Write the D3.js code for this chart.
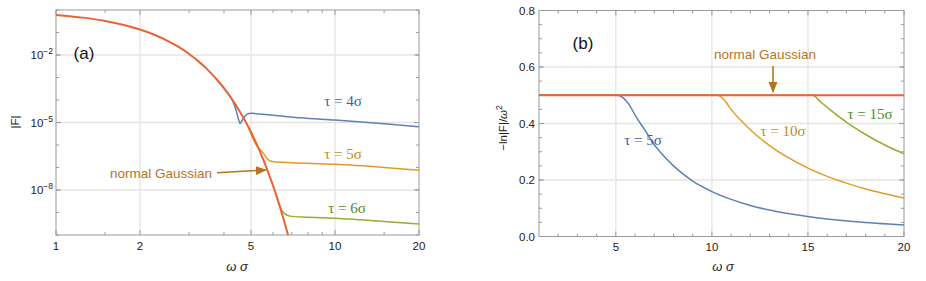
<!DOCTYPE html>
<html>
<head>
<meta charset="utf-8">
<script src="https://cdn.jsdelivr.net/npm/d3@7"></script>
<style>
  body { margin: 0; background: #fff; }
  svg { display: block; }
</style>
</head>
<body>
<div id="root"></div>
<script>
// ---- panel (a): |F| vs omega sigma, log-log ----
var gaussA = [[1, 0.607], [1.25, 0.458], [1.5, 0.325], [1.75, 0.216], [2, 0.135], [2.25, 0.0796],
  [2.5, 0.0439], [2.75, 0.0228], [3, 0.0111], [3.25, 5.08e-3], [3.5, 2.19e-3], [3.75, 8.83e-4],
  [4, 3.36e-4], [4.25, 1.20e-4], [4.5, 4.01e-5], [4.75, 1.26e-5], [5, 3.72e-6], [5.25, 1.04e-6],
  [5.5, 2.70e-7], [5.75, 6.61e-8], [6, 1.52e-8], [6.25, 3.30e-9], [6.5, 6.68e-10], [6.75, 1.28e-10],
  [6.8, 9.1e-11]];
var tau4 = [[3.9, 5.0e-4], [4.1, 2.2e-4], [4.26, 1.15e-4], [4.42, 3.6e-5], [4.52, 1.26e-5],
  [4.57, 9.1e-6], [4.65, 1.26e-5], [4.75, 1.9e-5], [4.85, 2.35e-5], [5.0, 2.57e-5], [5.5, 2.3e-5],
  [6, 2.1e-5], [7.5, 1.62e-5], [10, 1.29e-5], [15, 8.9e-6], [20, 6.5e-6]];
var tau5 = [[4.9, 6.1e-6], [5.17, 1.2e-6], [5.5, 4.8e-7], [5.84, 1.95e-7], [6.2, 1.74e-7],
  [7, 1.62e-7], [10, 1.38e-7], [15, 1.0e-7], [20, 7.6e-8]];
var tau6 = [[6.2, 4.5e-9], [6.41, 1.38e-9], [6.6, 8.9e-10], [6.89, 6.9e-10], [8, 6.2e-10],
  [10, 5.5e-10], [15, 4.0e-10], [20, 3.1e-10]];
var xTicksA = [1, 2, 5, 10, 20];
var xMinorA = [1.5, 3, 4, 6, 7, 8, 9, 15];
var yTicksA = [-2, -5, -8];          // labelled decades
var yDecadesA = [-10, -9, -8, -7, -6, -5, -4, -3, -2, -1, 0];

// ---- panel (b): -ln|F|/omega^2 ----
var gaussB = [[1, 0.5], [20, 0.5]];
var tau5b = [[1, 0.5], [5.1, 0.5], [5.4, 0.49], [5.7, 0.466], [6.0, 0.43], [6.5, 0.378], [7.0, 0.325],
  [7.3, 0.30], [8, 0.25], [9, 0.196], [10, 0.159], [12, 0.11], [15, 0.071], [17.5, 0.052], [20, 0.041]];
var tau10b = [[1, 0.5], [10.3, 0.5], [10.6, 0.487], [11, 0.45], [12, 0.378], [13, 0.322], [14, 0.278],
  [15, 0.242], [16, 0.213], [17, 0.189], [18, 0.168], [19, 0.151], [20, 0.136]];
var tau15b = [[1, 0.5], [15.25, 0.5], [15.6, 0.48], [16, 0.457], [17, 0.405], [18, 0.361],
  [19, 0.324], [20, 0.293]];
var xTicksB = [5, 10, 15, 20];
var yTicksB = [0.0, 0.2, 0.4, 0.6, 0.8];

var blue = "#5e81b5", gold = "#e19c24", green = "#8fb032", red = "#eb6235";
var frameCol = "#9a9a9a", gridCol = "#e4e4e4", textCol = "#222";
var sans = "'Liberation Sans', Arial, sans-serif";
var serif = "'Liberation Serif', 'Times New Roman', serif";

var svg = d3.select("#root").append("svg")
  .attr("width", 926).attr("height", 281);

var defs = svg.append("defs");
defs.append("marker").attr("id", "arrow")
  .attr("viewBox", "0 0 10 10").attr("refX", 9).attr("refY", 5)
  .attr("markerWidth", 7).attr("markerHeight", 7).attr("orient", "auto")
  .append("path").attr("d", "M0,1 L10,5 L0,9 z").attr("fill", "#b8741a");

function frame(g, x, y, xMaj, xMin, yMaj, yMin, idx) {
  var x0 = x.range()[0], x1 = x.range()[1], y0 = y.range()[0], y1 = y.range()[1];
  // grid at labelled ticks
  g.selectAll(".gx").data(xMaj.filter(function (d) { return x(d) > x0 + 1 && x(d) < x1 - 1; }))
    .enter().append("line")
    .attr("x1", function (d) { return x(d); }).attr("x2", function (d) { return x(d); })
    .attr("y1", y0).attr("y2", y1).attr("stroke", gridCol).attr("stroke-width", 1.3);
  g.selectAll(".gy").data(yMaj.filter(function (d) { return y(d) < y0 - 1 && y(d) > y1 + 1; }))
    .enter().append("line")
    .attr("y1", function (d) { return y(d); }).attr("y2", function (d) { return y(d); })
    .attr("x1", x0).attr("x2", x1).attr("stroke", gridCol).attr("stroke-width", 1.3);

  // ticks, inward on all four sides
  var tk = g.append("g").attr("stroke", frameCol).attr("stroke-width", 1);
  function xt(list, len) {
    list.forEach(function (d) {
      tk.append("line").attr("x1", x(d)).attr("x2", x(d)).attr("y1", y0).attr("y2", y0 - len);
      tk.append("line").attr("x1", x(d)).attr("x2", x(d)).attr("y1", y1).attr("y2", y1 + len);
    });
  }
  function yt(list, len) {
    list.forEach(function (d) {
      tk.append("line").attr("y1", y(d)).attr("y2", y(d)).attr("x1", x0).attr("x2", x0 + len);
      tk.append("line").attr("y1", y(d)).attr("y2", y(d)).attr("x1", x1).attr("x2", x1 - len);
    });
  }
  xt(xMaj, 5); xt(xMin, 3); yt(yMaj, 5); yt(yMin, 3);

  g.append("rect").attr("x", x0).attr("y", y1).attr("width", x1 - x0).attr("height", y0 - y1)
    .attr("fill", "none").attr("stroke", frameCol).attr("stroke-width", 1);

  defs.append("clipPath").attr("id", "clip" + idx).append("rect")
    .attr("x", x0).attr("y", y1).attr("width", x1 - x0).attr("height", y0 - y1);
}

function curve(g, data, x, y, col, w) {
  var line = d3.line()
    .x(function (d) { return x(d[0]); })
    .y(function (d) { return y(d[1]); })
    .curve(d3.curveMonotoneX);
  g.append("path").datum(data).attr("d", line)
    .attr("fill", "none").attr("stroke", col).attr("stroke-width", w)
    .attr("stroke-linejoin", "round");
}

function label(g, x, y, txt, col, font, size, anchor) {
  return g.append("text").attr("x", x).attr("y", y).text(txt)
    .attr("fill", col).attr("font-family", font).attr("font-size", size)
    .attr("text-anchor", anchor || "middle");
}

// ================= panel (a) =================
var xa = d3.scaleLog().domain([1, 20]).range([56, 419]);
var ya = d3.scaleLog().domain([1e-10, 1]).range([235, 10]);
var ga = svg.append("g");
var decades = yDecadesA.map(function (e) { return Math.pow(10, e); });
frame(ga, xa, ya, xTicksA, xMinorA, yTicksA.map(function (e) { return Math.pow(10, e); }), decades, "a");

var pa = ga.append("g").attr("clip-path", "url(#clipa)");
curve(pa, tau4, xa, ya, blue, 1.5);
curve(pa, tau5, xa, ya, gold, 1.5);
curve(pa, tau6, xa, ya, green, 1.5);
curve(pa, gaussA, xa, ya, red, 2);

xTicksA.forEach(function (d) {
  label(ga, xa(d), 250, d, textCol, sans, 11.5);
});
yTicksA.forEach(function (e) {
  var t = label(ga, 53, ya(Math.pow(10, e)) + 4, "10", textCol, sans, 11.5, "end");
  t.append("tspan").attr("dy", -5).attr("font-size", 8.5).text("\u2212" + (-e));
});
label(ga, 84, 59, "(a)", "#111", sans, 17);
label(ga, 237, 271, "\u03c9 \u03c3", textCol, sans, 13).attr("font-style", "italic");
label(ga, 0, 0, "|F|", textCol, sans, 11.5)
  .attr("transform", "translate(19,122) rotate(-90)");

label(ga, 343, 106, "\u03c4 = 4\u03c3", "#3a5da8", serif, 15);
label(ga, 343, 159, "\u03c4 = 5\u03c3", "#c48a1c", serif, 15);
label(ga, 347, 213, "\u03c4 = 6\u03c3", "#4f8a2c", serif, 15);
label(ga, 161, 178, "normal Gaussian", "#b8741a", sans, 13.5);
ga.append("line").attr("x1", 217).attr("y1", 172.7).attr("x2", 266).attr("y2", 170)
  .attr("stroke", "#b8741a").attr("stroke-width", 1.6).attr("marker-end", "url(#arrow)");

// ================= panel (b) =================
var xb = d3.scaleLinear().domain([1, 20]).range([539, 904]);
var yb = d3.scaleLinear().domain([0, 0.8]).range([236.5, 10.5]);
var gb = svg.append("g");
frame(gb, xb, yb, xTicksB, d3.range(2, 20, 1).filter(function (d) { return d % 5 !== 0; }),
  yTicksB, d3.range(0.05, 0.8, 0.05), "b");

var pb = gb.append("g").attr("clip-path", "url(#clipb)");
curve(pb, tau5b, xb, yb, blue, 1.5);
curve(pb, tau10b, xb, yb, gold, 1.5);
curve(pb, tau15b, xb, yb, green, 1.5);
curve(pb, gaussB, xb, yb, red, 1.8);

xTicksB.forEach(function (d) {
  label(gb, xb(d), 251, d, textCol, sans, 11.5);
});
yTicksB.forEach(function (d) {
  label(gb, 535, yb(d) + 4, d.toFixed(1), textCol, sans, 11.5, "end");
});
label(gb, 583, 49, "(b)", "#111", sans, 17);
label(gb, 723, 271, "\u03c9 \u03c3", textCol, sans, 13).attr("font-style", "italic");
var yl = label(gb, 0, 0, "\u2212ln|F|/", textCol, sans, 11.5)
  .attr("transform", "translate(507,128) rotate(-90)");
yl.append("tspan").attr("font-style", "italic").text("\u03c9");
yl.append("tspan").attr("dy", -5).attr("font-size", 8.5).text("2");

label(gb, 643, 145, "\u03c4 = 5\u03c3", "#3a5da8", serif, 15);
label(gb, 783, 136, "\u03c4 = 10\u03c3", "#c48a1c", serif, 15);
label(gb, 870, 119, "\u03c4 = 15\u03c3", "#4f8a2c", serif, 15);
label(gb, 765, 59, "normal Gaussian", "#b8741a", sans, 13.5);
gb.append("line").attr("x1", 773).attr("y1", 66).attr("x2", 773).attr("y2", 92)
  .attr("stroke", "#b8741a").attr("stroke-width", 1.6).attr("marker-end", "url(#arrow)");
</script>
</body>
</html>
